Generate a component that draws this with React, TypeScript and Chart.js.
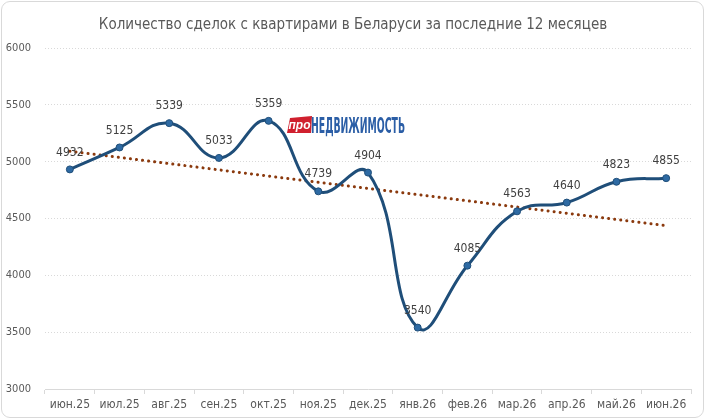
import React, { useEffect, useRef } from "react";
import { Chart, registerables } from "chart.js";

Chart.register(...registerables);

const categories = ["июн.25", "июл.25", "авг.25", "сен.25", "окт.25", "ноя.25", "дек.25", "янв.26", "фев.26", "мар.26", "апр.26", "май.26", "июн.26"];
const deals = [4932, 5125, 5339, 5033, 5359, 4739, 4904, 3540, 4085, 4563, 4640, 4823, 4855];
const yTicks = [3000, 3500, 4000, 4500, 5000, 5500, 6000];
const titleText = "Количество сделок с квартирами в Беларуси за последние 12 месяцев";

const NARROW = "'Liberation Sans Narrow', 'DejaVu Sans Condensed', 'Liberation Sans', sans-serif";

function linearTrend(values: number[]): number[] {
  const n = values.length;
  const mx = (n - 1) / 2;
  const my = values.reduce((a, b) => a + b, 0) / n;
  let sxy = 0, sxx = 0;
  values.forEach((v, i) => { sxy += (i - mx) * (v - my); sxx += (i - mx) * (i - mx); });
  const slope = sxy / sxx;
  return values.map((_, i) => my + slope * (i - mx));
}

const labelPlugin = {
  id: "pointLabels",
  afterDatasetsDraw(chart: any) {
    const meta = chart.getDatasetMeta(0);
    const ctx = chart.ctx;
    ctx.save();
    ctx.font = `12px ${NARROW}`;
    ctx.fillStyle = "#404040";
    ctx.textAlign = "center";
    ctx.textBaseline = "middle";
    meta.data.forEach((pt: any, i: number) => {
      ctx.fillText(String(deals[i]), pt.x, pt.y - 17);
    });
    ctx.restore();
  },
};

export default function App() {
  const ref = useRef<HTMLCanvasElement | null>(null);
  useEffect(() => {
    document.body.style.margin = "0";
    const trend = linearTrend(deals);
    const chart = new Chart(ref.current as HTMLCanvasElement, {
      type: "line",
      data: {
        labels: categories,
        datasets: [
          {
            data: deals,
            borderColor: "#1f4e79",
            backgroundColor: "#2e6aa3",
            pointBorderColor: "#1f4e79",
            pointBackgroundColor: "#2e6aa3",
            borderWidth: 3,
            pointRadius: 3.5,
            pointBorderWidth: 1,
            tension: 0.45,
            fill: false,
            order: 0,
          },
          {
            data: trend,
            borderColor: "#8b3a0e",
            borderWidth: 3,
            borderDash: [0.1, 6],
            borderCapStyle: "round",
            pointRadius: 0,
            tension: 0,
            fill: false,
            order: 1,
          },
        ],
      },
      options: {
        responsive: false,
        animation: false,
        devicePixelRatio: 1,
        layout: { padding: { top: 48, right: 15, left: 0, bottom: 0 } },
        plugins: { legend: { display: false }, tooltip: { enabled: false }, title: { display: false } },
        elements: { line: { capBezierPoints: false } },
        scales: {
          x: {
            offset: true,
            grid: { display: true, offset: true, drawOnChartArea: false, drawTicks: true, tickLength: 5, color: "#d9d9d9" },
            border: { display: true, color: "#d9d9d9", width: 1 },
            ticks: { color: "#595959", font: { size: 12, family: NARROW }, padding: 4, maxRotation: 0, autoSkip: false },
            afterFit(scale: any) { scale.height = 31; },
          },
          y: {
            min: 3000,
            max: 6000,
            afterBuildTicks(scale: any) { scale.ticks = yTicks.map((v) => ({ value: v })); },
            grid: { color: "#d9d9d9", drawTicks: false, lineWidth: 1 },
            border: { display: false, dash: [1, 2] },
            ticks: { color: "#595959", font: { size: 11, family: NARROW }, padding: 14, callback: (v: any) => String(v) },
            afterFit(scale: any) { scale.width = 45; },
          },
        },
      },
      plugins: [labelPlugin],
    });
    return () => chart.destroy();
  }, []);

  return (
    <div style={{ position: "relative", width: 706, height: 420, background: "#fff", overflow: "hidden" }}>
      <canvas ref={ref} width={706} height={420} style={{ position: "absolute", left: 0, top: 0 }} />
      <div
        style={{
          position: "absolute", left: 1, top: 1, width: 703, height: 417, boxSizing: "border-box",
          border: "1px solid #d9d9d9", borderRadius: 9, pointerEvents: "none",
        }}
      />
      <div
        style={{
          position: "absolute", left: 0, top: 14, width: 706, textAlign: "center",
          fontFamily: NARROW, fontSize: 15, color: "#595959", lineHeight: "20px",
        }}
      >
        {titleText}
      </div>
      <svg width={130} height={24} style={{ position: "absolute", left: 286, top: 113 }}>
        <polygon points="4,5 26,3 25,20 1,20" fill="#d0202e" />
        <text x={13.5} y={16} textAnchor="middle" fill="#ffffff" fontFamily="'Liberation Sans', sans-serif" fontWeight={700} fontStyle="italic" fontSize={12}>
          про
        </text>
        <text x={25} y={19.5} textLength={94} lengthAdjust="spacingAndGlyphs" fill="#2b5ea6" fontFamily={NARROW} fontWeight={700} fontSize={22}>
          НЕДВИЖИМОСТЬ
        </text>
      </svg>
    </div>
  );
}
